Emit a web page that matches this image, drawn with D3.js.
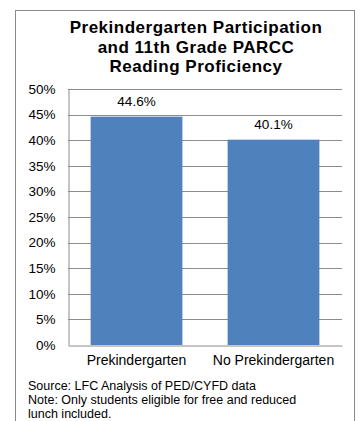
<!DOCTYPE html>
<html>
<head>
<meta charset="utf-8">
<script src="https://cdn.jsdelivr.net/npm/d3@7"></script>
<style>
  html, body { margin: 0; padding: 0; background: #fff; }
  svg { display: block; font-family: "Liberation Sans", Arial, sans-serif; }
</style>
</head>
<body>
<svg id="chart" width="360" height="421"></svg>
<script>
// Reading proficiency by prekindergarten participation
const categories = ["Prekindergarten", "No Prekindergarten"];
const proficiency = [44.6, 40.1];
const yTicks = [0, 5, 10, 15, 20, 25, 30, 35, 40, 45, 50];
const titleLines = ["Prekindergarten Participation", "and 11th Grade PARCC", "Reading Proficiency"];
const footnotes = ["Source: LFC Analysis of PED/CYFD data", "Note: Only students eligible for free and reduced", "lunch included."];

const svg = d3.select("#chart");
const FONT = "Liberation Sans, Arial, sans-serif";

// outer frame (runs past the bottom edge)
svg.append("rect")
  .attr("x", 15.5).attr("y", 10.5)
  .attr("width", 339).attr("height", 430)
  .attr("fill", "#fff").attr("stroke", "#8a8a8a").attr("stroke-width", 1);

// title
svg.append("g").selectAll("text").data(titleLines).join("text")
  .attr("x", 196).attr("y", (d, i) => 33 + i * 19.5)
  .attr("text-anchor", "middle")
  .attr("font-size", 17).attr("font-weight", "bold").attr("fill", "#000")
  .attr("letter-spacing", 0.5)
  .text(d => d);

const plot = { left: 68, right: 342, top: 89, bottom: 345 };

const x = d3.scaleBand()
  .domain(categories)
  .range([plot.left, plot.right])
  .paddingInner(0.33).paddingOuter(0.165);

const y = d3.scaleLinear().domain([0, 50]).range([plot.bottom, plot.top]);

// gridlines
svg.append("g").selectAll("line").data(yTicks.filter(t => t > 0)).join("line")
  .attr("x1", plot.left).attr("x2", plot.right)
  .attr("y1", d => Math.round(y(d)) + 0.5).attr("y2", d => Math.round(y(d)) + 0.5)
  .attr("stroke", "#8c8c8c").attr("stroke-width", 1);

// y axis
const yAxis = svg.append("g")
  .attr("transform", `translate(${plot.left + 0.5},0)`)
  .call(d3.axisLeft(y).tickValues(yTicks).tickSize(0).tickPadding(13).tickFormat(d => d + "%"));
yAxis.select(".domain").attr("stroke", "#8c8c8c");
yAxis.selectAll("text").attr("font-size", 13.5).attr("fill", "#000").attr("font-family", FONT);

// bars
svg.append("g").selectAll("rect").data(categories).join("rect")
  .attr("x", d => x(d)).attr("width", x.bandwidth())
  .attr("y", (d, i) => y(proficiency[i]))
  .attr("height", (d, i) => y(0) - y(proficiency[i]))
  .attr("fill", "#4f81bd");

// value labels
svg.append("g").selectAll("text").data(categories).join("text")
  .attr("x", d => x(d) + x.bandwidth() / 2)
  .attr("y", (d, i) => y(proficiency[i]) - 11)
  .attr("text-anchor", "middle").attr("font-size", 13.5).attr("fill", "#000")
  .text((d, i) => proficiency[i].toFixed(1) + "%");

// x axis
const xAxis = svg.append("g")
  .attr("transform", `translate(0,${plot.bottom + 0.5})`)
  .call(d3.axisBottom(x).tickSize(0).tickPadding(10));
xAxis.select(".domain").attr("stroke", "#8c8c8c");
xAxis.selectAll("text").attr("font-size", 14).attr("fill", "#000").attr("font-family", FONT);

// footnotes
svg.append("g").selectAll("text").data(footnotes).join("text")
  .attr("x", 28).attr("y", (d, i) => 390 + i * 14.2)
  .attr("font-size", 12.5).attr("fill", "#000")
  .text(d => d);
</script>
</body>
</html>
